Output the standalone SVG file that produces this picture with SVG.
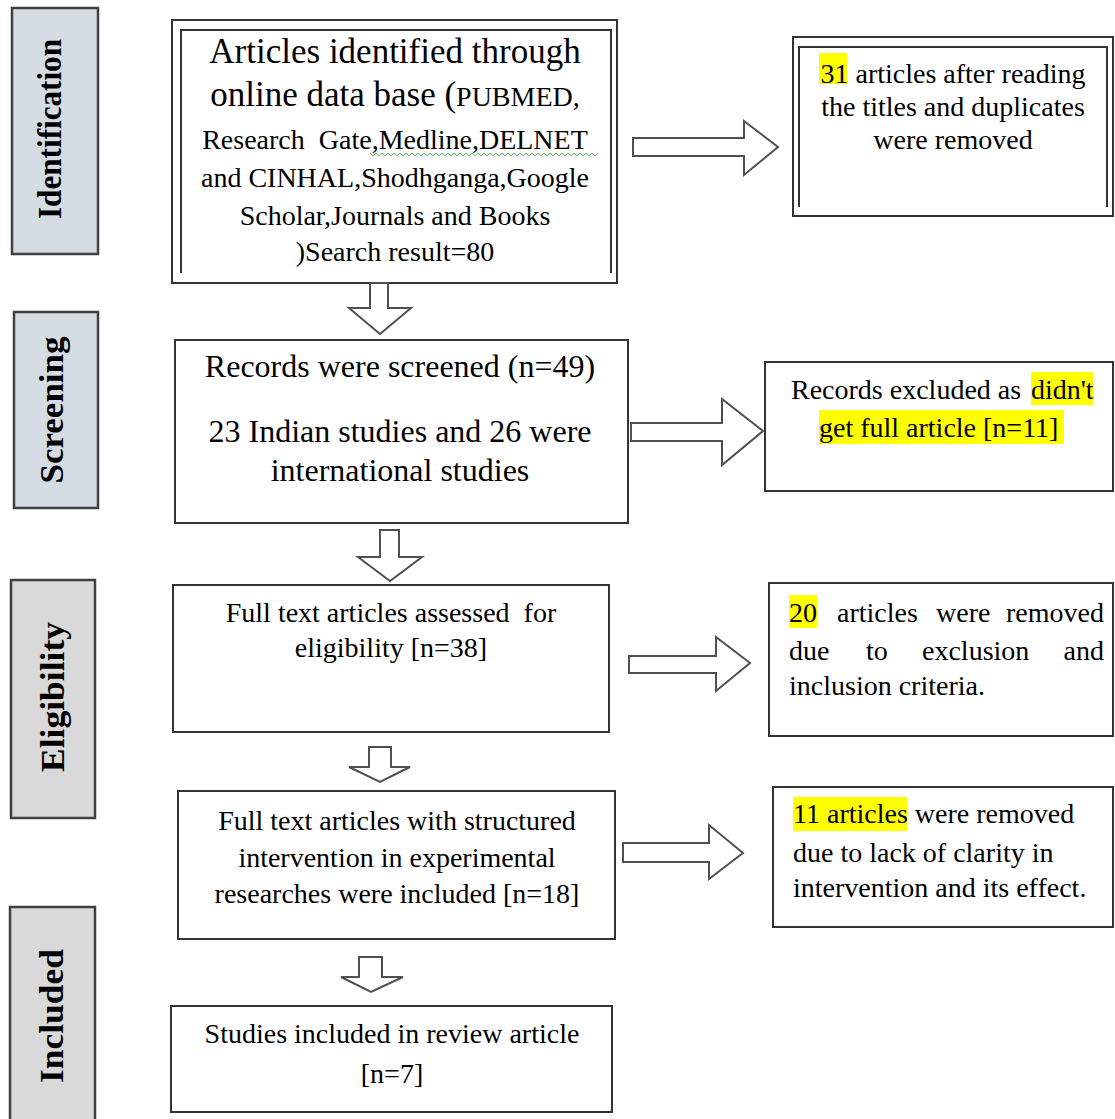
<svg xmlns="http://www.w3.org/2000/svg" width="1115" height="1119" viewBox="0 0 1115 1119">
<style>
.bg{fill:#ffffff}
.box{fill:#ffffff;stroke:#333333;stroke-width:2}
.inner{fill:none;stroke:#333333;stroke-width:2}
.lab1{fill:#d6dce4;stroke:#404040;stroke-width:2.5}
.lab2{fill:#d9d9d9;stroke:#404040;stroke-width:2.5}
.t{font-family:"Liberation Serif","Times New Roman",serif;font-size:28px;fill:#000000;white-space:pre}
.big{font-size:35px}
.mid{font-size:32px}
.lt{font-family:"Liberation Serif","Times New Roman",serif;font-weight:bold;font-size:33px;fill:#000000}
.hl{fill:#ffff00}
.arr{fill:#ffffff;stroke:#505050;stroke-width:2;stroke-linejoin:miter}
.sq{fill:none;stroke:#5cb85c;stroke-width:1}
</style>
<rect class="bg" x="0" y="0" width="1115" height="1119"/>

<g id="label-identification">
<rect class="lab1" x="12" y="8" width="86" height="246"/>
<text class="lt" transform="translate(61,129) rotate(-90)" text-anchor="middle" textLength="180" lengthAdjust="spacingAndGlyphs">Identification</text>
</g>
<g id="label-screening">
<rect class="lab1" x="14" y="312" width="84" height="196"/>
<text class="lt" transform="translate(63,410) rotate(-90)" text-anchor="middle" textLength="147" lengthAdjust="spacingAndGlyphs">Screening</text>
</g>
<g id="label-eligibility">
<rect class="lab2" x="11" y="580" width="84" height="238"/>
<text class="lt" transform="translate(64,697) rotate(-90)" text-anchor="middle" textLength="150" lengthAdjust="spacingAndGlyphs">Eligibility</text>
</g>
<g id="label-included">
<rect class="lab2" x="10" y="907" width="85" height="220"/>
<text class="lt" transform="translate(63,1016) rotate(-90)" text-anchor="middle" textLength="134" lengthAdjust="spacingAndGlyphs">Included</text>
</g>

<g id="node-identified">
<rect class="box" x="172" y="20" width="445" height="263"/>
<path class="inner" d="M181,273 V30 H611 V273"/>
<text class="t big" x="395" y="63" text-anchor="middle">Articles identified through</text>
<text class="t" x="395" y="106" text-anchor="middle"><tspan class="big">online data base (</tspan>PUBMED,</text>
<text class="t" x="395" y="149" text-anchor="middle">Research  Gate,Medline,DELNET</text>
<path class="sq" d="M370,153 l3,3 3,-3 3,3 3,-3 3,3 3,-3 3,3 3,-3 3,3 3,-3 3,3 3,-3 3,3 3,-3 3,3 3,-3 3,3 3,-3 3,3 3,-3 3,3 3,-3 3,3 3,-3 3,3 3,-3 3,3 3,-3 3,3 3,-3 3,3 3,-3 3,3 3,-3 3,3 3,-3 3,3 3,-3 3,3 3,-3 3,3 3,-3 3,3 3,-3 3,3 3,-3 3,3 3,-3 3,3 3,-3 3,3 3,-3 3,3 3,-3 3,3 3,-3 3,3 3,-3 3,3 3,-3 3,3 3,-3 3,3 3,-3 3,3 3,-3 3,3 3,-3 3,3 3,-3 3,3 3,-3 3,3 3,-3 3,3 3,-3"/>
<text class="t" x="395" y="187" text-anchor="middle">and CINHAL,Shodhganga,Google</text>
<text class="t" x="395" y="225" text-anchor="middle">Scholar,Journals and Books</text>
<text class="t" x="395" y="261" text-anchor="middle">)Search result=80</text>
</g>

<g id="node-removed-duplicates">
<rect class="box" x="793" y="37" width="320" height="179"/>
<path class="inner" d="M799,207 V47 H1107 V207"/>
<rect class="hl" x="819" y="53" width="28" height="31"/>
<text class="t" x="953" y="83" text-anchor="middle">31 articles after reading</text>
<text class="t" x="953" y="116" text-anchor="middle">the titles and duplicates</text>
<text class="t" x="953" y="149" text-anchor="middle">were removed</text>
</g>

<g id="node-screened">
<rect class="box" x="175" y="340" width="453" height="183"/>
<text class="t mid" x="400" y="377" text-anchor="middle">Records were screened (n=49)</text>
<text class="t mid" x="400" y="442" text-anchor="middle">23 Indian studies and 26 were</text>
<text class="t mid" x="400" y="481" text-anchor="middle">international studies</text>
</g>

<g id="node-excluded">
<rect class="box" x="765" y="362" width="348" height="129"/>
<rect class="hl" x="1031" y="372" width="62" height="33"/>
<rect class="hl" x="819" y="410" width="245" height="34"/>
<text class="t" x="791" y="399">Records excluded as <tspan x="1031">didn't</tspan></text>
<text class="t" x="819" y="437">get full article [n=11]</text>
</g>

<g id="node-eligibility">
<rect class="box" x="173" y="585" width="436" height="147"/>
<text class="t" x="391" y="622" text-anchor="middle">Full text articles assessed  for</text>
<text class="t" x="391" y="657" text-anchor="middle">eligibility [n=38]</text>
</g>

<g id="node-removed-criteria">
<rect class="box" x="769" y="583" width="344" height="153"/>
<rect class="hl" x="789" y="595" width="28" height="33"/>
<text class="t" y="622"><tspan x="789">20</tspan><tspan x="837">articles</tspan><tspan x="936">were</tspan><tspan x="1104" text-anchor="end">removed</tspan></text>
<text class="t" y="660"><tspan x="789">due</tspan><tspan x="866">to</tspan><tspan x="922">exclusion</tspan><tspan x="1104" text-anchor="end">and</tspan></text>
<text class="t" x="789" y="695">inclusion criteria.</text>
</g>

<g id="node-structured">
<rect class="box" x="178" y="791" width="437" height="148"/>
<text class="t" x="397" y="830" text-anchor="middle">Full text articles with structured</text>
<text class="t" x="397" y="867" text-anchor="middle">intervention in experimental</text>
<text class="t" x="397" y="903" text-anchor="middle">researches were included [n=18]</text>
</g>

<g id="node-removed-clarity">
<rect class="box" x="773" y="787" width="340" height="140"/>
<rect class="hl" x="793" y="797" width="114" height="34"/>
<text class="t" x="793" y="823">11 articles were removed</text>
<text class="t" x="793" y="862">due to lack of clarity in</text>
<text class="t" x="793" y="897">intervention and its effect.</text>
</g>

<g id="node-included">
<rect class="box" x="171" y="1006" width="441" height="106"/>
<text class="t" x="392" y="1043" text-anchor="middle">Studies included in review article</text>
<text class="t" x="392" y="1083" text-anchor="middle">[n=7]</text>
</g>

<g id="connectors">
<polygon class="arr" points="370,283 388,283 388,308 411,308 380,334 349,308 370,308"/>
<polygon class="arr" points="380,530 399,530 399,557 422,557 390,581 358,557 380,557"/>
<polygon class="arr" points="369,747 391,747 391,767 410,767 380,782 349,767 369,767"/>
<polygon class="arr" points="359,957 382,957 382,977 403,977 371,992 341,977 359,977"/>
<polygon class="arr" points="633,138 744,138 744,121 778,147 744,175 744,156 633,156"/>
<polygon class="arr" points="631,423 722,423 722,399 763,431 722,465 722,441 631,441"/>
<polygon class="arr" points="629,656 716,656 716,637 750,663 716,691 716,673 629,673"/>
<polygon class="arr" points="623,843 709,843 709,825 743,853 709,879 709,862 623,862"/>
</g>
</svg>
